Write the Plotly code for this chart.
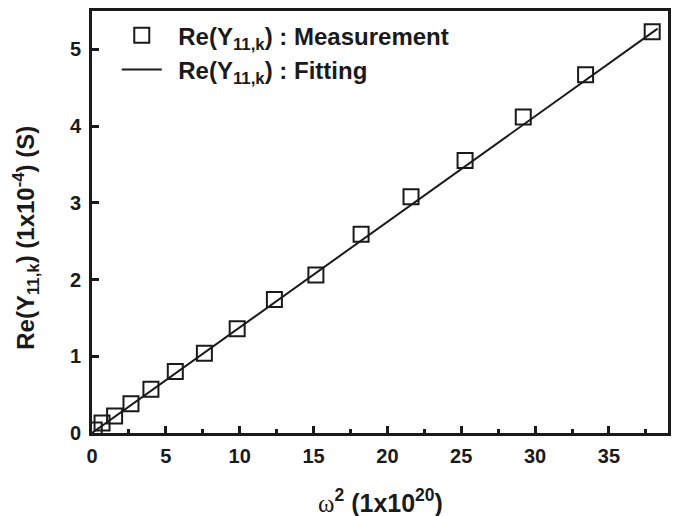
import plotly.graph_objects as go

# Data
omega2_meas = [0.15, 0.68, 1.53, 2.64, 3.99, 5.64, 7.61, 9.83, 12.35, 15.16, 18.22, 21.6, 25.26, 29.2, 33.42, 37.93]
re_y11_meas = [0.04, 0.13, 0.22, 0.38, 0.57, 0.80, 1.04, 1.36, 1.74, 2.06, 2.59, 3.08, 3.55, 4.12, 4.67, 5.23]
omega2_fit = [0.0, 38.3]
re_y11_fit = [0.0, 5.27]

x_ticks = [0, 5, 10, 15, 20, 25, 30, 35]
y_ticks = [0, 1, 2, 3, 4, 5]

FONT = "Liberation Sans, Arial, sans-serif"
INK = "#1a1a1a"
PAD = "\u00a0\u2009"

fig = go.Figure()
fig.add_trace(go.Scatter(
    x=omega2_meas, y=re_y11_meas, mode="markers",
    name=PAD + "Re(Y<sub>11,k</sub>) : Measurement",
    legendgroup="meas",
    marker=dict(symbol="square-open", size=15, color=INK, line=dict(width=2, color=INK)),
    cliponaxis=True,
))
fig.add_trace(go.Scatter(
    x=omega2_fit, y=re_y11_fit, mode="lines",
    name=PAD + "Re(Y<sub>11,k</sub>) : Fitting",
    legendgroup="fit",
    line=dict(color=INK, width=2),
))

axis_common = dict(
    showline=True, linewidth=3, linecolor=INK, mirror=True,
    ticks="inside", ticklen=7, tickwidth=2.5, tickcolor=INK,
    showgrid=False, zeroline=False,
    tickfont=dict(family=FONT, size=20, color=INK, weight="bold"),
)

fig.update_xaxes(range=[0, 39], tickvals=x_ticks,
                 minor=dict(ticks="inside", ticklen=4, tickwidth=2.5, tickcolor=INK, dtick=2.5, tick0=0),
                 ticklabelstandoff=3,
                 **axis_common)
fig.update_yaxes(range=[0, 5.5], tickvals=y_ticks, ticklabelstandoff=4, **axis_common)

fig.add_annotation(
    text='<span style="font-family:Liberation Serif;font-weight:normal">ω</span><sup>2</sup> (1x10<sup>20</sup>)',
    xref="paper", yref="paper", x=0.5, y=-0.16, xanchor="center", yanchor="middle",
    showarrow=False, font=dict(family=FONT, size=25, color=INK, weight="bold"),
)
fig.add_annotation(
    text="Re(Y<sub>11,k</sub>) (1x10<sup>-4</sup>) (S)",
    xref="paper", yref="paper", x=-0.115, y=0.462, xanchor="center", yanchor="middle",
    textangle=-90, showarrow=False,
    font=dict(family=FONT, size=24, color=INK, weight="bold"),
)

fig.update_layout(
    width=674, height=508,
    margin=dict(l=84, r=14, t=0, b=83),
    plot_bgcolor="white", paper_bgcolor="white",
    showlegend=True,
    legend=dict(x=0.043, y=0.995, xanchor="left", yanchor="top",
                bgcolor="rgba(0,0,0,0)", borderwidth=0,
                traceorder="grouped",
                font=dict(family=FONT, size=24, color=INK, weight="bold"),
                itemwidth=40, tracegroupgap=0),
)

fig.write_html("out.html")
